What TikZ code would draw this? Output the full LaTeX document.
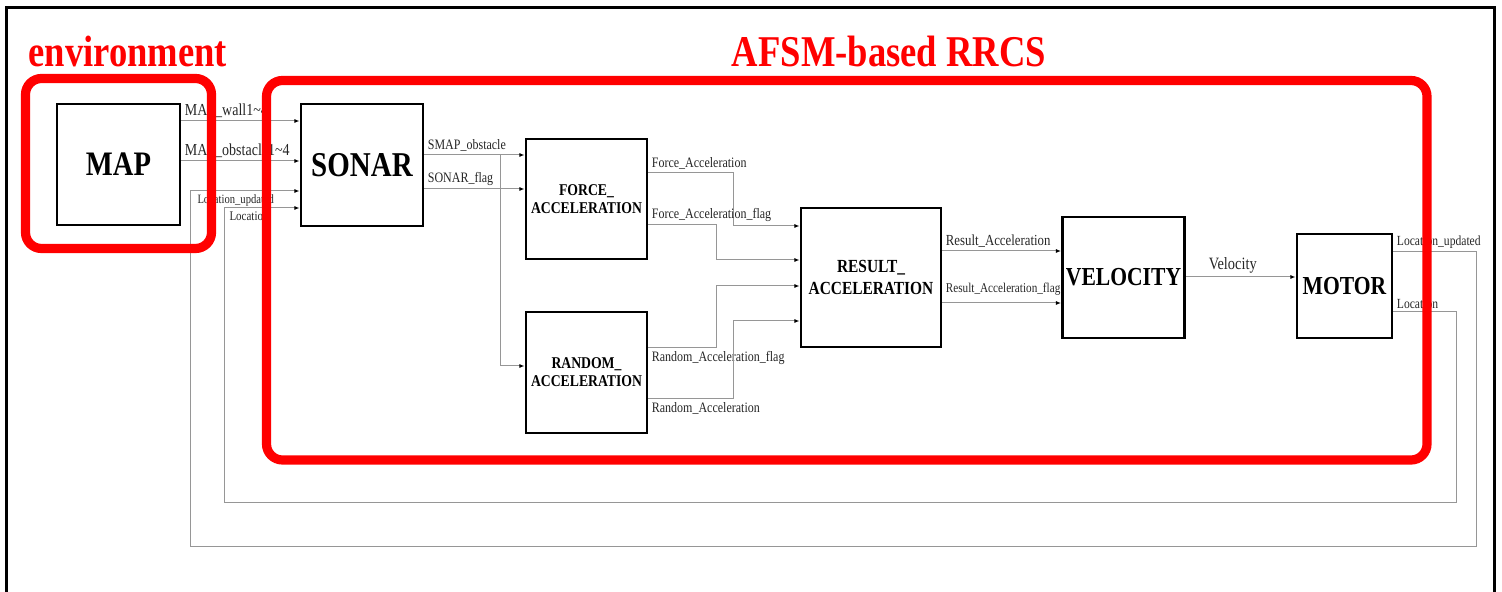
\documentclass[tikz,border=0pt]{standalone}
\usepackage{fontspec}
\setmainfont{Liberation Serif}
\usetikzlibrary{arrows.meta}
\definecolor{wire}{RGB}{150,150,150}
\newcommand{\tx}[1]{\scalebox{1}[1.2]{#1}}
\tikzset{
  block/.style={draw,line width=1.4pt,inner sep=0pt,align=center},
  sig/.style={draw=wire,line width=.5pt,-{Latex[length=2.6pt,width=2pt,black]}},
  lbl/.style={font=\fontsize{#1}{#1}\selectfont,inner sep=1.5pt,text=black!85},
  lbl/.default=6,
  group/.style={draw=red,line width=4.6pt,rounded corners=8pt}
}

\begin{document}
\begin{tikzpicture}[x=.5pt,y=-.5pt]
  \clip (0,0) rectangle (1502,592);
  \draw[line width=1.5pt] (6,600) |- (1494,8) -- (1494,600);

  % blocks
  \node[block,minimum width=61.5pt,minimum height=60.5pt,font=\bfseries\fontsize{14.3}{16}\selectfont] (map) at (118.5,164.5) {\tx{MAP}};
  \node[block,minimum width=61pt,minimum height=61pt,font=\bfseries\fontsize{14.5}{16}\selectfont] (sonar) at (362,165) {\tx{SONAR}};
  \node[block,minimum width=60.5pt,minimum height=60pt,font=\bfseries\fontsize{6.85}{9}\selectfont] (force) at (586.5,199) {\tx{FORCE\_}\\\tx{ACCELERATION}};
  \node[block,minimum width=60.5pt,minimum height=60.5pt,font=\bfseries\fontsize{6.85}{9}\selectfont] (random) at (586.5,372.5) {\tx{RANDOM\_}\\\tx{ACCELERATION}};
  \node[block,minimum width=70pt,minimum height=69.5pt,font=\bfseries\fontsize{7.7}{11}\selectfont] (result) at (871,277.5) {\tx{RESULT\_}\\\tx{ACCELERATION}};
  \node[block,minimum width=61pt,minimum height=60.5pt,font=\bfseries\fontsize{10.8}{12}\selectfont] (velocity) at (1123.5,277.5) {\tx{VELOCITY}};
  \node[block,minimum width=47.5pt,minimum height=52pt,font=\bfseries\fontsize{10.8}{12}\selectfont] (motor) at (1344.5,286) {\tx{MOTOR}};

  % signals
  \draw[sig] (map.east |- 0,121) -- node[lbl=7,pos=0,anchor=south west] {\tx{MAP\_wall1\textasciitilde4}} (sonar.west |- 0,121);
  \draw[sig] (map.east |- 0,161) -- node[lbl=7,pos=0,anchor=south west] {\tx{MAP\_obstacle1\textasciitilde4}} (sonar.west |- 0,161);
  \draw[sig] (sonar.east |- 0,155) -- node[lbl,pos=0,anchor=south west] {\tx{SMAP\_obstacle}} (force.west |- 0,155);
  \draw[sig] (sonar.east |- 0,189) -- node[lbl,pos=0,anchor=south west] {\tx{SONAR\_flag}} (force.west |- 0,189);
  \draw[sig] (500,155) |- (random.west |- 0,366);
  \draw[sig] (force.east |- 0,173) -| node[lbl,pos=0,anchor=south west] {\tx{Force\_Acceleration}} (733,226) -- (result.west |- 0,226);
  \draw[sig] (force.east |- 0,225) -| node[lbl,pos=0,anchor=south west] {\tx{Force\_Acceleration\_flag}} (716,260) -- (result.west |- 0,260);
  \draw[sig] (random.east |- 0,348) -| node[lbl,pos=0,anchor=north west] {\tx{Random\_Acceleration\_flag}} (716,286) -- (result.west |- 0,286);
  \draw[sig] (random.east |- 0,399) -| node[lbl,pos=0,anchor=north west] {\tx{Random\_Acceleration}} (733,321) -- (result.west |- 0,321);
  \draw[sig] (result.east |- 0,251) -- node[lbl=6.4,pos=0,anchor=south west] {\tx{Result\_Acceleration}} (velocity.west |- 0,251);
  \draw[sig] (result.east |- 0,303) -- node[lbl=5.6,pos=0,anchor=south west,yshift=2pt] {\tx{Result\_Acceleration\_flag}} (velocity.west |- 0,303);
  \draw[sig] (velocity.east |- 0,277) -- node[lbl=7.2,midway,above,xshift=-4pt] {\tx{Velocity}} (motor.west |- 0,277);

  % feedback to sonar
  \draw[sig] (motor.east |- 0,252) -| node[lbl=5.8,pos=0,anchor=south west] {\tx{Location\_updated}} (1476,546) -| (190,191)
    -- node[lbl=5.3,pos=0,anchor=north west,xshift=2pt] {\tx{Location\_updated}} (sonar.west |- 0,191);
  \draw[sig] (motor.east |- 0,312) -| node[lbl=5.8,pos=0,anchor=south west] {\tx{Location}} (1456,502) -| (224,208)
    -- node[lbl=5.5,pos=0,anchor=north west,xshift=1pt] {\tx{Location}} (sonar.west |- 0,208);

  % groups
  \draw[group] (25.5,78.5) rectangle (211.5,248.5);
  \draw[group] (266.5,80.5) rectangle (1427,460);
  \node[anchor=base west,inner sep=0pt,text=red,font=\bfseries\fontsize{18.3}{20}\selectfont] (envtitle) at (28,67) {\tx{environment}};
  \node[anchor=base,inner sep=0pt,text=red,font=\bfseries\fontsize{18.3}{20}\selectfont] (rrcstitle) at (889,67) {\tx{AFSM-based RRCS}};
\end{tikzpicture}
\end{document}
